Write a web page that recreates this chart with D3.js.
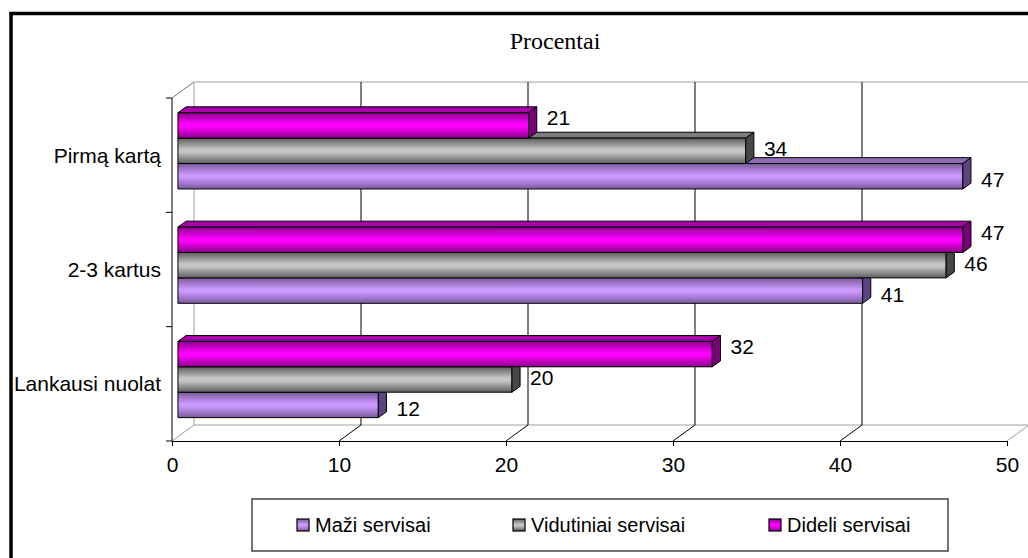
<!DOCTYPE html>
<html>
<head>
<meta charset="utf-8">
<script src="https://cdn.jsdelivr.net/npm/d3@7"></script>
<style>
  html, body { margin: 0; padding: 0; background: #fff; }
  svg { display: block; }
  text { font-family: "Liberation Sans", Arial, sans-serif; fill: #000; }
</style>
</head>
<body>
<svg id="chart" width="1028" height="558"></svg>
<script>
// Categories (top to bottom) and series values
const categories = ["Pirmą kartą", "2-3 kartus", "Lankausi nuolat"];
const seriesNames = ["Maži servisai", "Vidutiniai servisai", "Dideli servisai"];
const maziValues = [47, 41, 12];
const vidutiniaiValues = [34, 46, 20];
const dideliValues = [21, 47, 32];
const xTickValues = [0, 10, 20, 30, 40, 50];
const chartTitle = "Procentai";

const seriesValues = [maziValues, vidutiniaiValues, dideliValues];

// Shading per series: edge, centre, top face, end face
const palette = [
  { edge: "#7a5a9c", mid: "#cc99ff", top: "#8c6cb4", side: "#5c4480" },
  { edge: "#5e5e5e", mid: "#c6c6c6", top: "#7c7c7c", side: "#474747" },
  { edge: "#8a008a", mid: "#ff00ff", top: "#a800a8", side: "#7a007a" }
];

const svg = d3.select("#chart");
const W = 1028, H = 558;

// Outer frame
svg.append("rect").attr("x", 0).attr("y", 0).attr("width", W).attr("height", H).attr("fill", "#fff");
svg.append("rect")
  .attr("x", 11).attr("y", 13.5).attr("width", 1100).attr("height", 700)
  .attr("fill", "none").attr("stroke", "#000").attr("stroke-width", 3.5);

// Title
svg.append("text")
  .attr("x", 555).attr("y", 41)
  .attr("text-anchor", "middle").attr("dominant-baseline", "central")
  .style("font-family", "'Liberation Serif', 'Times New Roman', serif")
  .style("font-size", "24px")
  .text(chartTitle);

// Plot geometry: front plane scales plus a depth vector for the 3D floor/walls
const x = d3.scaleLinear().domain([0, 50]).range([172, 1007]);
const y = d3.scaleBand().domain(categories).range([98, 441]).paddingInner(1 / 3).paddingOuter(1 / 6);
const seriesOrderTopDown = [2, 1, 0];
const ys = d3.scaleBand().domain(seriesOrderTopDown).range([0, y.bandwidth()]);
const depth = { dx: 22, dy: -16 };
const yFloor = 441;
const yTopFront = 98;

const grid = svg.append("g");
const gray = "#a0a0a0";
// Back wall outline and floor edges
grid.append("line").attr("x1", x(0) + depth.dx).attr("y1", yFloor + depth.dy)
  .attr("x2", x(50) + depth.dx).attr("y2", yFloor + depth.dy).attr("stroke", gray);
grid.append("line").attr("x1", x(0) + depth.dx).attr("y1", yTopFront + depth.dy)
  .attr("x2", x(50) + depth.dx).attr("y2", yTopFront + depth.dy).attr("stroke", gray);
grid.append("line").attr("x1", x(0) + depth.dx).attr("y1", yTopFront + depth.dy)
  .attr("x2", x(0) + depth.dx).attr("y2", yFloor + depth.dy).attr("stroke", gray);
grid.append("line").attr("x1", x(0)).attr("y1", yTopFront)
  .attr("x2", x(0) + depth.dx).attr("y2", yTopFront + depth.dy).attr("stroke", "#777");

// Gridlines: diagonal across the floor, then up the back wall
xTickValues.forEach(v => {
  const inner = v > 0 && v < 50;
  grid.append("line")
    .attr("x1", x(v)).attr("y1", yFloor)
    .attr("x2", x(v) + depth.dx).attr("y2", yFloor + depth.dy)
    .attr("stroke", inner ? "#000" : gray);
  if (inner) {
    grid.append("line")
      .attr("x1", x(v) + depth.dx).attr("y1", yFloor + depth.dy)
      .attr("x2", x(v) + depth.dx).attr("y2", yTopFront + depth.dy)
      .attr("stroke", "#000");
  }
});

// Value axis
const xAxis = d3.axisBottom(x).tickValues(xTickValues).tickSize(5).tickPadding(11).tickSizeOuter(0);
const xg = svg.append("g").attr("transform", `translate(0,${yFloor})`).call(xAxis);
xg.select(".domain").attr("stroke", "#000");
xg.selectAll(".tick line").attr("stroke", "#000");
xg.selectAll(".tick text").style("font-size", "21px").style("font-family", "'Liberation Sans', Arial, sans-serif").attr("fill", "#000");

// Category axis: line, boundary ticks, centred labels
svg.append("line").attr("x1", x(0)).attr("y1", yTopFront).attr("x2", x(0)).attr("y2", yFloor).attr("stroke", "#000");
const step = y.step();
const bounds = [yTopFront].concat(categories.map(c => y(c) + y.bandwidth() + (step - y.bandwidth()) / 2));
bounds.forEach(b => {
  svg.append("line").attr("x1", x(0) - 6).attr("x2", x(0)).attr("y1", b).attr("y2", b).attr("stroke", "#000");
});
svg.append("g").selectAll("text").data(categories).join("text")
  .attr("x", 161).attr("y", d => y(d) + y.bandwidth() / 2)
  .attr("text-anchor", "end").attr("dominant-baseline", "central")
  .style("font-size", "21px")
  .text(d => d);

// Gradients for bar fronts
const defs = svg.append("defs");
palette.forEach((p, i) => {
  const g = defs.append("linearGradient").attr("id", "grad" + i)
    .attr("x1", 0).attr("y1", 0).attr("x2", 0).attr("y2", 1);
  g.append("stop").attr("offset", "0%").attr("stop-color", p.edge);
  g.append("stop").attr("offset", "45%").attr("stop-color", p.mid);
  g.append("stop").attr("offset", "55%").attr("stop-color", p.mid);
  g.append("stop").attr("offset", "100%").attr("stop-color", p.edge);
});

// 3D bars: sit between 27% and 64% of the floor depth
const f0 = 0.27, f1 = 0.64;
const bx = depth.dx * f0, by = depth.dy * f0;
const sx = depth.dx * (f1 - f0), sy = depth.dy * (f1 - f0);
const bars = svg.append("g").attr("stroke", "#000").attr("stroke-width", 1).attr("stroke-linejoin", "round");
const labels = svg.append("g");

categories.forEach((c, ci) => {
  // lower bars first so the bar above overlaps their top face
  [0, 1, 2].forEach(si => {
    const v = seriesValues[si][ci];
    const p = palette[si];
    const x0 = x(0) + bx, x1 = x(v) + bx;
    const yt = y(c) + ys(si) + by;
    const h = ys.bandwidth();
    bars.append("polygon")
      .attr("points", [[x0, yt], [x1, yt], [x1 + sx, yt + sy], [x0 + sx, yt + sy]].join(" "))
      .attr("fill", p.top);
    bars.append("rect")
      .attr("x", x0).attr("y", yt).attr("width", x1 - x0).attr("height", h)
      .attr("fill", `url(#grad${si})`);
    bars.append("polygon")
      .attr("points", [[x1, yt], [x1 + sx, yt + sy], [x1 + sx, yt + h + sy], [x1, yt + h]].join(" "))
      .attr("fill", p.side);
    const rank = seriesOrderTopDown.indexOf(si);
    labels.append("text")
      .attr("x", x1 + sx + 10)
      .attr("y", yt + h / 2 - 2 + (rank - 1) * 5.5)
      .attr("dominant-baseline", "central")
      .style("font-size", "21px")
      .text(v);
  });
});

// Legend
const legend = svg.append("g");
legend.append("rect").attr("x", 252).attr("y", 499).attr("width", 696).attr("height", 52)
  .attr("fill", "#fff").attr("stroke", "#444").attr("stroke-width", 1.5);
const legendX = [297, 513, 769];
seriesNames.forEach((name, i) => {
  legend.append("rect").attr("x", legendX[i]).attr("y", 519).attr("width", 12).attr("height", 12)
    .attr("fill", `url(#grad${i})`).attr("stroke", "#000").attr("stroke-width", 1.2);
  legend.append("text").attr("x", legendX[i] + 18).attr("y", 525)
    .attr("dominant-baseline", "central").style("font-size", "20px").text(name);
});
</script>
</body>
</html>
